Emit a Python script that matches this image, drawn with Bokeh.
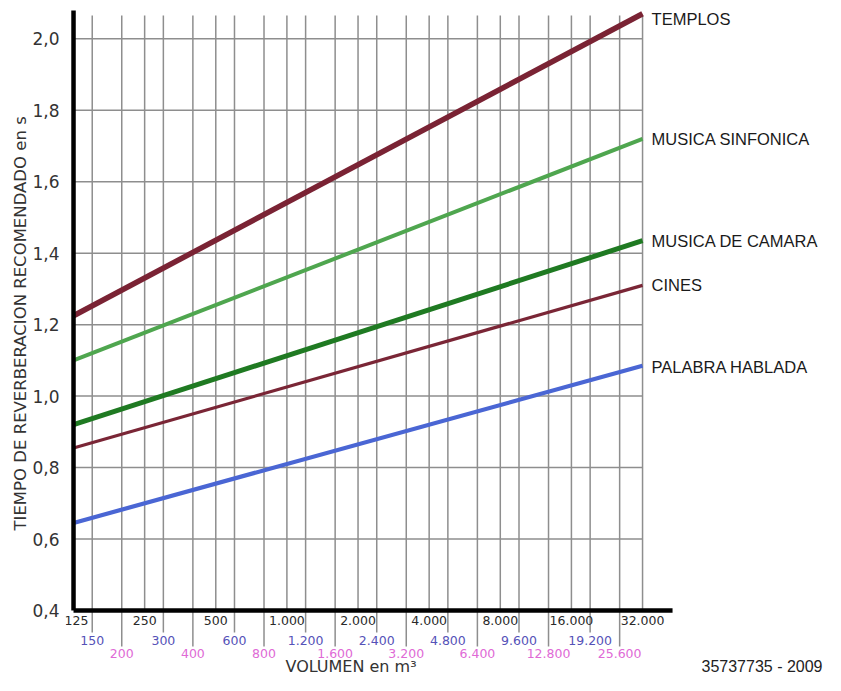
import math
from bokeh.plotting import figure
from bokeh.models import FixedTicker, Range1d, Title
from bokeh.core.properties import value
from bokeh.embed import file_html
from bokeh.resources import INLINE

# ---------------- data ----------------
volume_ends = [125, 32000]          # m3, start and end of every line
templos = [1.225, 2.07]
musica_sinfonica = [1.10, 1.72]
musica_de_camara = [0.92, 1.435]
cines = [0.855, 1.31]
palabra_hablada = [0.645, 1.085]

series_names = ["TEMPLOS", "MUSICA SINFONICA", "MUSICA DE CAMARA", "CINES", "PALABRA HABLADA"]
series_values = [templos, musica_sinfonica, musica_de_camara, cines, palabra_hablada]

y_ticks = [0.4, 0.6, 0.8, 1.0, 1.2, 1.4, 1.6, 1.8, 2.0]
y_labels = ["0,4", "0,6", "0,8", "1,0", "1,2", "1,4", "1,6", "1,8", "2,0"]

row1_ticks = [125, 250, 500, 1000, 2000, 4000, 8000, 16000, 32000]
row1_labels = ["125", "250", "500", "1.000", "2.000", "4.000", "8.000", "16.000", "32.000"]
row2_ticks = [150, 300, 600, 1200, 2400, 4800, 9600, 19200]
row2_labels = ["150", "300", "600", "1.200", "2.400", "4.800", "9.600", "19.200"]
row3_ticks = [200, 400, 800, 1600, 3200, 6400, 12800, 25600]
row3_labels = ["200", "400", "800", "1.600", "3.200", "6.400", "12.800", "25.600"]

x_title = "VOLUMEN en m³"
y_title = "TIEMPO DE REVERBERACION RECOMENDADO en  s"
source_note = "35737735 - 2009"

# ---------------- styles / layout ----------------
series_colors = ["#7a2334", "#4fa64f", "#1f7a22", "#7a2636", "#4a66d4"]
series_widths = [5.5, 4, 5, 3.2, 4.2]
label_dy = [5, 0, 0, 0, 1]           # pixel nudges of the right-hand labels
row1_dx = [3] + [0] * (len(row1_ticks) - 1)   # keep the first label inside the frame
grid_color = "#8e8e8e"
PX_PER_UNIT = 357.25                 # vertical pixels per second of the frame
x_start, x_end = 115.6, 190300
y_start, y_end = 0.2181, 2.1072
grid_top = 2.065
axis_top = 2.079


def below_axis(px):
    """value that lies px pixels below the 0,4 axis line"""
    return y_ticks[0] - px / PX_PER_UNIT


p = figure(width=825, height=675, x_axis_type="log", x_axis_location=None,
           x_range=Range1d(x_start, x_end), y_range=Range1d(y_start, y_end),
           output_backend="svg", toolbar_location=None,
           min_border_left=65, min_border_right=0, min_border_top=0, min_border_bottom=0)
p.outline_line_color = None
p.xgrid.visible = False
p.ygrid.visible = False

# horizontal grid lines
hy = y_ticks[1:]
p.segment(x0=[volume_ends[0]] * len(hy), x1=[volume_ends[1]] * len(hy), y0=hy, y1=hy,
          line_color=grid_color, line_width=1.5)
# vertical grid lines (rows 2 and 3 continue below the axis down to their labels)
for ticks, drop in ((row1_ticks[1:], 0), (row2_ticks, 22), (row3_ticks, 36)):
    p.segment(x0=ticks, x1=ticks, y0=[below_axis(drop)] * len(ticks),
              y1=[grid_top] * len(ticks), line_color=grid_color, line_width=1.5)

# series lines
for vals, col, w in zip(series_values, series_colors, series_widths):
    p.line(volume_ends, vals, line_color=col, line_width=w)

# thick axis lines
p.segment(x0=[volume_ends[0]], x1=[42866], y0=[y_ticks[0]], y1=[y_ticks[0]],
          line_color="black", line_width=4.5)
p.segment(x0=[volume_ends[0]], x1=[volume_ends[0]], y0=[y_ticks[0]], y1=[axis_top],
          line_color="black", line_width=4.5)

# right-hand series labels
p.text(x=[volume_ends[1]] * len(series_names), y=[v[1] for v in series_values],
       text=series_names, x_offset=9, y_offset=label_dy,
       text_font=value("Liberation Sans"), text_font_size="16.5px", text_color="#1a1a1a",
       text_baseline="middle", text_align="left")

# x tick label rows
for ticks, labels, color, dx, dy in ((row1_ticks, row1_labels, "#2a2a2a", row1_dx, 10),
                                     (row2_ticks, row2_labels, "#5552b8", 0, 30),
                                     (row3_ticks, row3_labels, "#e06ad6", 0, 43)):
    p.text(x=ticks, y=[y_ticks[0]] * len(ticks), text=labels, x_offset=dx, y_offset=dy,
           text_font=value("DejaVu Sans"), text_font_size="12.5px", text_color=color,
           text_baseline="middle", text_align="center")

# x title and source note
p.text(x=[math.sqrt(volume_ends[0] * volume_ends[1])], y=[y_ticks[0]], text=[x_title],
       x_offset=-7, y_offset=55.5, text_font=value("DejaVu Sans"), text_font_size="16px",
       text_color="#333333", text_baseline="middle", text_align="center")
p.text(x=[x_end], y=[y_ticks[0]], text=[source_note], x_offset=-3, y_offset=55.5,
       text_font=value("Liberation Sans"), text_font_size="16px", text_color="#222222",
       text_baseline="middle", text_align="right")

# ---------------- y axis ----------------
yax = p.yaxis[0]
yax.ticker = FixedTicker(ticks=y_ticks, minor_ticks=[])
yax.major_label_overrides = dict(zip(y_ticks, y_labels))
yax.axis_line_color = None
yax.major_tick_line_color = None
yax.minor_tick_line_color = None
yax.major_label_standoff = 0
yax.major_label_text_font = "DejaVu Sans"
yax.major_label_text_font_size = "17px"
yax.major_label_text_color = "#333333"

p.add_layout(Title(text=y_title, align="left", offset=145, standoff=0,
                   text_font="DejaVu Sans", text_font_size="16.5px",
                   text_font_style="normal", text_color="#333333"), "left")

open("out.html", "w").write(file_html(p, INLINE))
